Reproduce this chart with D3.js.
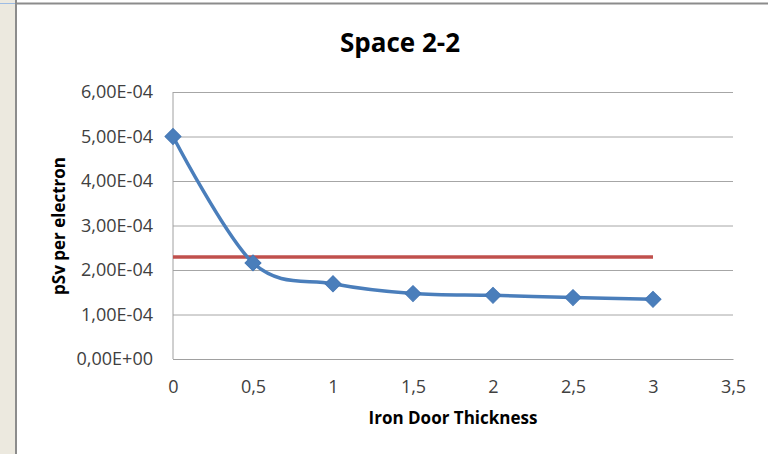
<!DOCTYPE html>
<html>
<head>
<meta charset="utf-8">
<script src="https://cdn.jsdelivr.net/npm/d3@7"></script>
<style>
  body { margin: 0; background: #fff; }
  svg { display: block; font-family: "Open Sans", sans-serif; }
  .axis text { font-size: 18px; fill: #404040; }
</style>
</head>
<body>
<div id="chart"></div>
<script>
// data
var thickness = [0, 0.5, 1, 1.5, 2, 2.5, 3];
var dose = [5.0e-4, 2.16e-4, 1.69e-4, 1.47e-4, 1.43e-4, 1.38e-4, 1.34e-4];
var limit = [2.29e-4, 2.29e-4, 2.29e-4, 2.29e-4, 2.29e-4, 2.29e-4, 2.29e-4];
var xTicks = [0, 0.5, 1, 1.5, 2, 2.5, 3, 3.5];
var yTicks = [0, 1e-4, 2e-4, 3e-4, 4e-4, 5e-4, 6e-4];

var W = 768, H = 454;
var margin = {top: 92, right: 35, bottom: 95, left: 173};
var width = W - margin.left - margin.right,
    height = H - margin.top - margin.bottom;

var root = d3.select("#chart").append("svg")
    .attr("width", W)
    .attr("height", H);

// window frame bits on the left and top
root.append("rect").attr("x", 0).attr("y", 0).attr("width", 16).attr("height", H).attr("fill", "#ECE9DF");
root.append("line").attr("x1", 0).attr("x2", 15).attr("y1", 3.5).attr("y2", 3.5)
    .attr("stroke", "#9DBCE4").attr("stroke-width", 1);
root.append("rect").attr("x", 15).attr("y", 0).attr("width", 2).attr("height", H).attr("fill", "#8C8C8C");
root.append("rect").attr("x", 15).attr("y", 2.5).attr("width", W - 15).attr("height", 2).attr("fill", "#8C8C8C");

var svg = root.append("g")
    .attr("transform", "translate(" + margin.left + "," + margin.top + ")");

var x = d3.scaleLinear().domain([0, 3.5]).range([0, width]),
    y = d3.scaleLinear().domain([0, 6e-4]).range([height, 0]);

// excel style "6,00E-04"
function sci(v) {
  var s = v.toExponential(2).split("e");
  var exp = +s[1];
  var e = (exp < 0 ? "-" : "+") + (Math.abs(exp) < 10 ? "0" : "") + Math.abs(exp);
  return s[0].replace(".", ",") + "E" + e;
}

// y axis + gridlines
var yAxis = svg.append("g")
    .attr("class", "axis")
    .call(d3.axisLeft(y).tickValues(yTicks).tickFormat(sci)
      .tickSizeInner(-width).tickSizeOuter(0).tickPadding(20))
    .attr("font-family", null).attr("font-size", null);
yAxis.select(".domain").remove();
yAxis.selectAll(".tick line").attr("stroke", "#A6A6A6").attr("stroke-width", 1);

// x axis
var xAxis = svg.append("g")
    .attr("class", "axis")
    .attr("transform", "translate(0," + height + ")")
    .call(d3.axisBottom(x).tickValues(xTicks)
      .tickFormat(function(d) { return String(d).replace(".", ","); })
      .tickSize(0).tickPadding(21))
    .attr("font-family", null).attr("font-size", null);
xAxis.select(".domain").attr("stroke", "#A0A0A0");

svg.append("line")
    .attr("x1", 0).attr("x2", 0)
    .attr("y1", y(6e-4)).attr("y2", y(0))
    .attr("stroke", "#A0A0A0");

// limit line
var limitLine = d3.line()
    .x(function(d, i) { return x(thickness[i]); })
    .y(function(d) { return y(d); });
svg.append("path")
    .datum(limit)
    .attr("fill", "none")
    .attr("stroke", "#C0504D")
    .attr("stroke-width", 3.5)
    .attr("d", limitLine);

// smoothed dose line
var doseLine = d3.line()
    .x(function(d, i) { return x(thickness[i]); })
    .y(function(d) { return y(d); })
    .curve(d3.curveCardinal.tension(0));
svg.append("path")
    .datum(dose)
    .attr("fill", "none")
    .attr("stroke", "#4A7EBB")
    .attr("stroke-width", 3.5)
    .attr("d", doseLine);

svg.selectAll(".marker")
    .data(dose)
  .enter().append("path")
    .attr("class", "marker")
    .attr("d", d3.symbol(d3.symbolSquare, 128))
    .attr("transform", function(d, i) {
      return "translate(" + x(thickness[i]) + "," + y(d) + ") rotate(45)";
    })
    .attr("fill", "#4A7EBB")
    .attr("stroke", "#4577B5")
    .attr("stroke-width", 1);

// titles
root.append("text")
    .attr("x", 400).attr("y", 52)
    .attr("text-anchor", "middle")
    .style("font-size", "26px").style("font-weight", "bold")
    .text("Space 2-2");

root.append("text")
    .attr("x", 453).attr("y", 424)
    .attr("text-anchor", "middle")
    .style("font-size", "17px").style("font-weight", "bold")
    .text("Iron Door Thickness");

root.append("text")
    .attr("transform", "translate(65,226) rotate(-90)")
    .attr("text-anchor", "middle")
    .style("font-size", "17px").style("font-weight", "bold")
    .text("pSv per electron");
</script>
</body>
</html>
